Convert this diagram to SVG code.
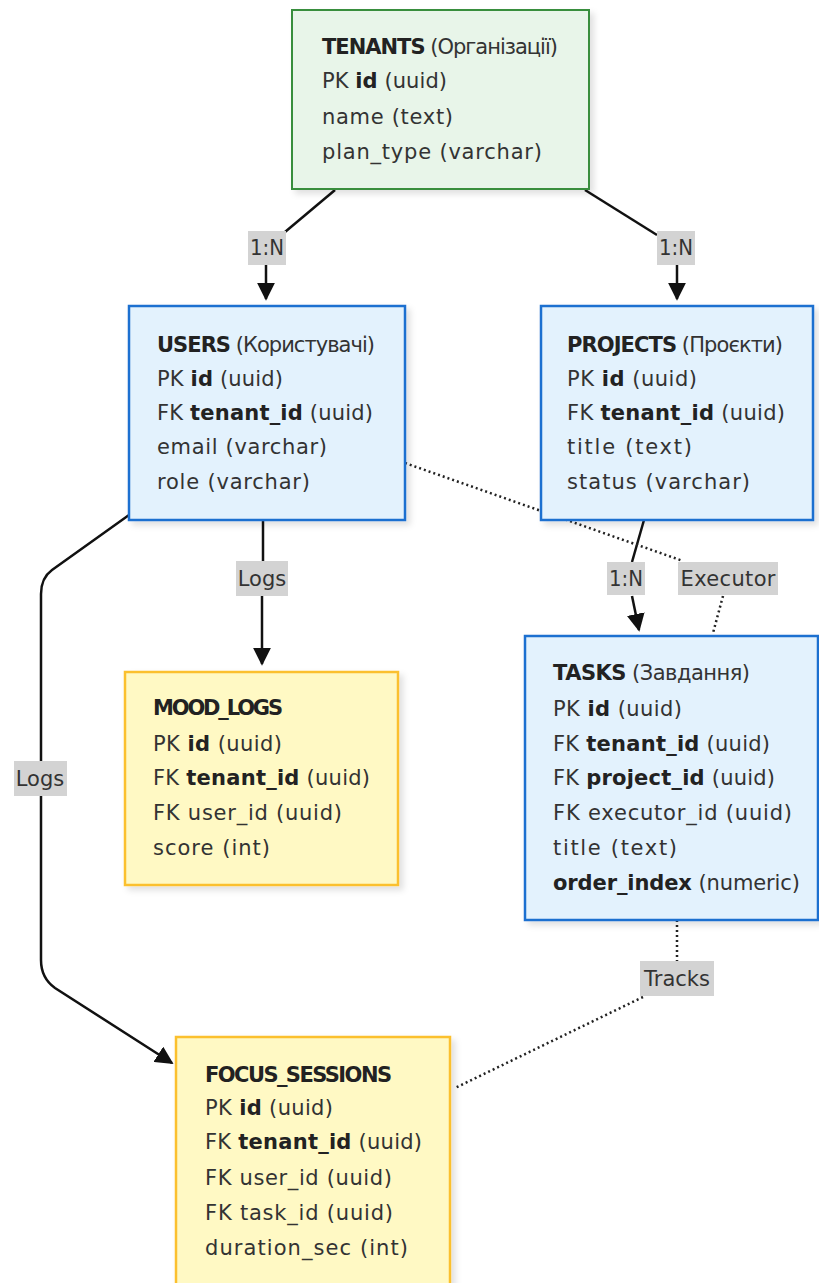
<svg xmlns="http://www.w3.org/2000/svg" width="819" height="1283" viewBox="0 0 819 1283">
  <style>
    .ent text { font-family: "DejaVu Sans", Verdana, sans-serif; font-size: 21px; fill: #333; }
    .b { font-weight: bold; fill: #222; }
    .green { fill: #e8f5e9; stroke: #388e3c; stroke-width: 2; }
    .blue { fill: #e3f2fd; stroke: #1e6fd0; stroke-width: 2.5; }
    .yellow { fill: #fff9c4; stroke: #fbc02d; stroke-width: 2.5; }
    .edge { fill: none; stroke: #111; stroke-width: 2.5; }
    .dot { fill: none; stroke: #222; stroke-width: 2.5; stroke-dasharray: 2 3; }
    .lbl rect { fill: #d3d3d3; }
    .lbl text { font-family: "DejaVu Sans", Verdana, sans-serif; font-size: 21px; fill: #333; text-anchor: middle; }
  </style>
  <defs>
    <filter id="shadow" x="-10%" y="-10%" width="125%" height="125%">
      <feDropShadow dx="4" dy="4" stdDeviation="3" flood-color="#000" flood-opacity="0.12"/>
    </filter>
    <marker id="arrowBig" viewBox="0 0 10 10" refX="9" refY="5" markerWidth="18" markerHeight="18" markerUnits="userSpaceOnUse" orient="auto">
      <path d="M0,0 L10,5 L0,10 z" fill="#111"/>
    </marker>
  </defs>

  <!-- relationships -->
  <g id="connectors">
    <!-- TENANTS -> USERS -->
    <path class="edge" d="M335,190 L285,232"/>
    <path class="edge" d="M266,265 L266,299" marker-end="url(#arrowBig)"/>
    <!-- TENANTS -> PROJECTS -->
    <path class="edge" d="M585,190 L657,235"/>
    <path class="edge" d="M677,265 L677,299" marker-end="url(#arrowBig)"/>
    <!-- USERS -> MOOD_LOGS -->
    <path class="edge" d="M263,520 L263,561"/>
    <path class="edge" d="M262,596 L262,664" marker-end="url(#arrowBig)"/>
    <!-- USERS -> FOCUS_SESSIONS -->
    <path class="edge" d="M129,515 L52,570 Q41,578 41,594 L41,960 Q41,978 55,988 L172,1063" marker-end="url(#arrowBig)"/>
    <!-- PROJECTS -> TASKS -->
    <path class="edge" d="M644,520 L632,562"/>
    <path class="edge" d="M632,596 L639,630" marker-end="url(#arrowBig)"/>
    <!-- USERS -> TASKS (executor) -->
    <path class="dot" d="M405,463 L683,561"/>
    <path class="dot" d="M723,596 L713,633"/>
    <!-- TASKS -> FOCUS_SESSIONS (tracks) -->
    <path class="dot" d="M677,920 L677,961"/>
    <path class="dot" d="M643,997 L455,1088"/>

    <g class="lbl">
      <rect x="248" y="231" width="38" height="34"/><text x="267" y="255" textLength="34" lengthAdjust="spacingAndGlyphs">1:N</text>
      <rect x="657" y="231" width="38" height="34"/><text x="676" y="255" textLength="34" lengthAdjust="spacingAndGlyphs">1:N</text>
      <rect x="236" y="561" width="52" height="35"/><text x="262" y="586">Logs</text>
      <rect x="14" y="761" width="53" height="35"/><text x="40" y="786">Logs</text>
      <rect x="607" y="562" width="38" height="33"/><text x="626" y="586" textLength="34" lengthAdjust="spacingAndGlyphs">1:N</text>
      <rect x="678" y="562" width="100" height="33"/><text x="728" y="586" textLength="95">Executor</text>
      <rect x="640" y="961" width="74" height="35"/><text x="677" y="986">Tracks</text>
    </g>
  </g>

  <g id="tenants" class="ent">
    <rect class="green" x="292" y="10" width="297" height="179" filter="url(#shadow)"/>
    <text x="322" y="54" textLength="236"><tspan class="b">TENANTS</tspan> (Організації)</text>
    <text x="322" y="88" textLength="125">PK <tspan class="b">id</tspan> (uuid)</text>
    <text x="322" y="124" textLength="131">name (text)</text>
    <text x="322" y="159" textLength="220">plan_type (varchar)</text>
  </g>

  <g id="users" class="ent">
    <rect class="blue" x="129" y="306" width="276" height="214" filter="url(#shadow)"/>
    <text x="157" y="352" textLength="218"><tspan class="b">USERS</tspan> (Користувачі)</text>
    <text x="157" y="386" textLength="126">PK <tspan class="b">id</tspan> (uuid)</text>
    <text x="157" y="420" textLength="216">FK <tspan class="b">tenant_id</tspan> (uuid)</text>
    <text x="157" y="454" textLength="170">email (varchar)</text>
    <text x="157" y="489" textLength="153">role (varchar)</text>
  </g>

  <g id="projects" class="ent">
    <rect class="blue" x="541" y="306" width="272" height="214" filter="url(#shadow)"/>
    <text x="567" y="352" textLength="216"><tspan class="b">PROJECTS</tspan> (Проєкти)</text>
    <text x="567" y="386" textLength="130">PK <tspan class="b">id</tspan> (uuid)</text>
    <text x="567" y="420" textLength="218">FK <tspan class="b">tenant_id</tspan> (uuid)</text>
    <text x="567" y="454" textLength="125">title (text)</text>
    <text x="567" y="489" textLength="183">status (varchar)</text>
  </g>

  <g id="mood_logs" class="ent">
    <rect class="yellow" x="125" y="672" width="273" height="213" filter="url(#shadow)"/>
    <text x="153" y="715" textLength="130"><tspan class="b">MOOD_LOGS</tspan></text>
    <text x="153" y="751" textLength="129">PK <tspan class="b">id</tspan> (uuid)</text>
    <text x="153" y="785" textLength="217">FK <tspan class="b">tenant_id</tspan> (uuid)</text>
    <text x="153" y="820" textLength="189">FK user_id (uuid)</text>
    <text x="153" y="855" textLength="117">score (int)</text>
  </g>

  <g id="tasks" class="ent">
    <rect class="blue" x="525" y="636" width="293" height="284" filter="url(#shadow)"/>
    <text x="553" y="680" textLength="197"><tspan class="b">TASKS</tspan> (Завдання)</text>
    <text x="553" y="716" textLength="129">PK <tspan class="b">id</tspan> (uuid)</text>
    <text x="553" y="751" textLength="217">FK <tspan class="b">tenant_id</tspan> (uuid)</text>
    <text x="553" y="785" textLength="222">FK <tspan class="b">project_id</tspan> (uuid)</text>
    <text x="553" y="820" textLength="239">FK executor_id (uuid)</text>
    <text x="553" y="855" textLength="124">title (text)</text>
    <text x="553" y="890" textLength="247"><tspan class="b">order_index</tspan> (numeric)</text>
  </g>

  <g id="focus_sessions" class="ent">
    <rect class="yellow" x="176" y="1037" width="274" height="260" filter="url(#shadow)"/>
    <text x="205" y="1082" textLength="187"><tspan class="b">FOCUS_SESSIONS</tspan></text>
    <text x="205" y="1115" textLength="128">PK <tspan class="b">id</tspan> (uuid)</text>
    <text x="205" y="1149" textLength="217">FK <tspan class="b">tenant_id</tspan> (uuid)</text>
    <text x="205" y="1185" textLength="187">FK user_id (uuid)</text>
    <text x="205" y="1220" textLength="188">FK task_id (uuid)</text>
    <text x="205" y="1255" textLength="203">duration_sec (int)</text>
  </g>
</svg>
